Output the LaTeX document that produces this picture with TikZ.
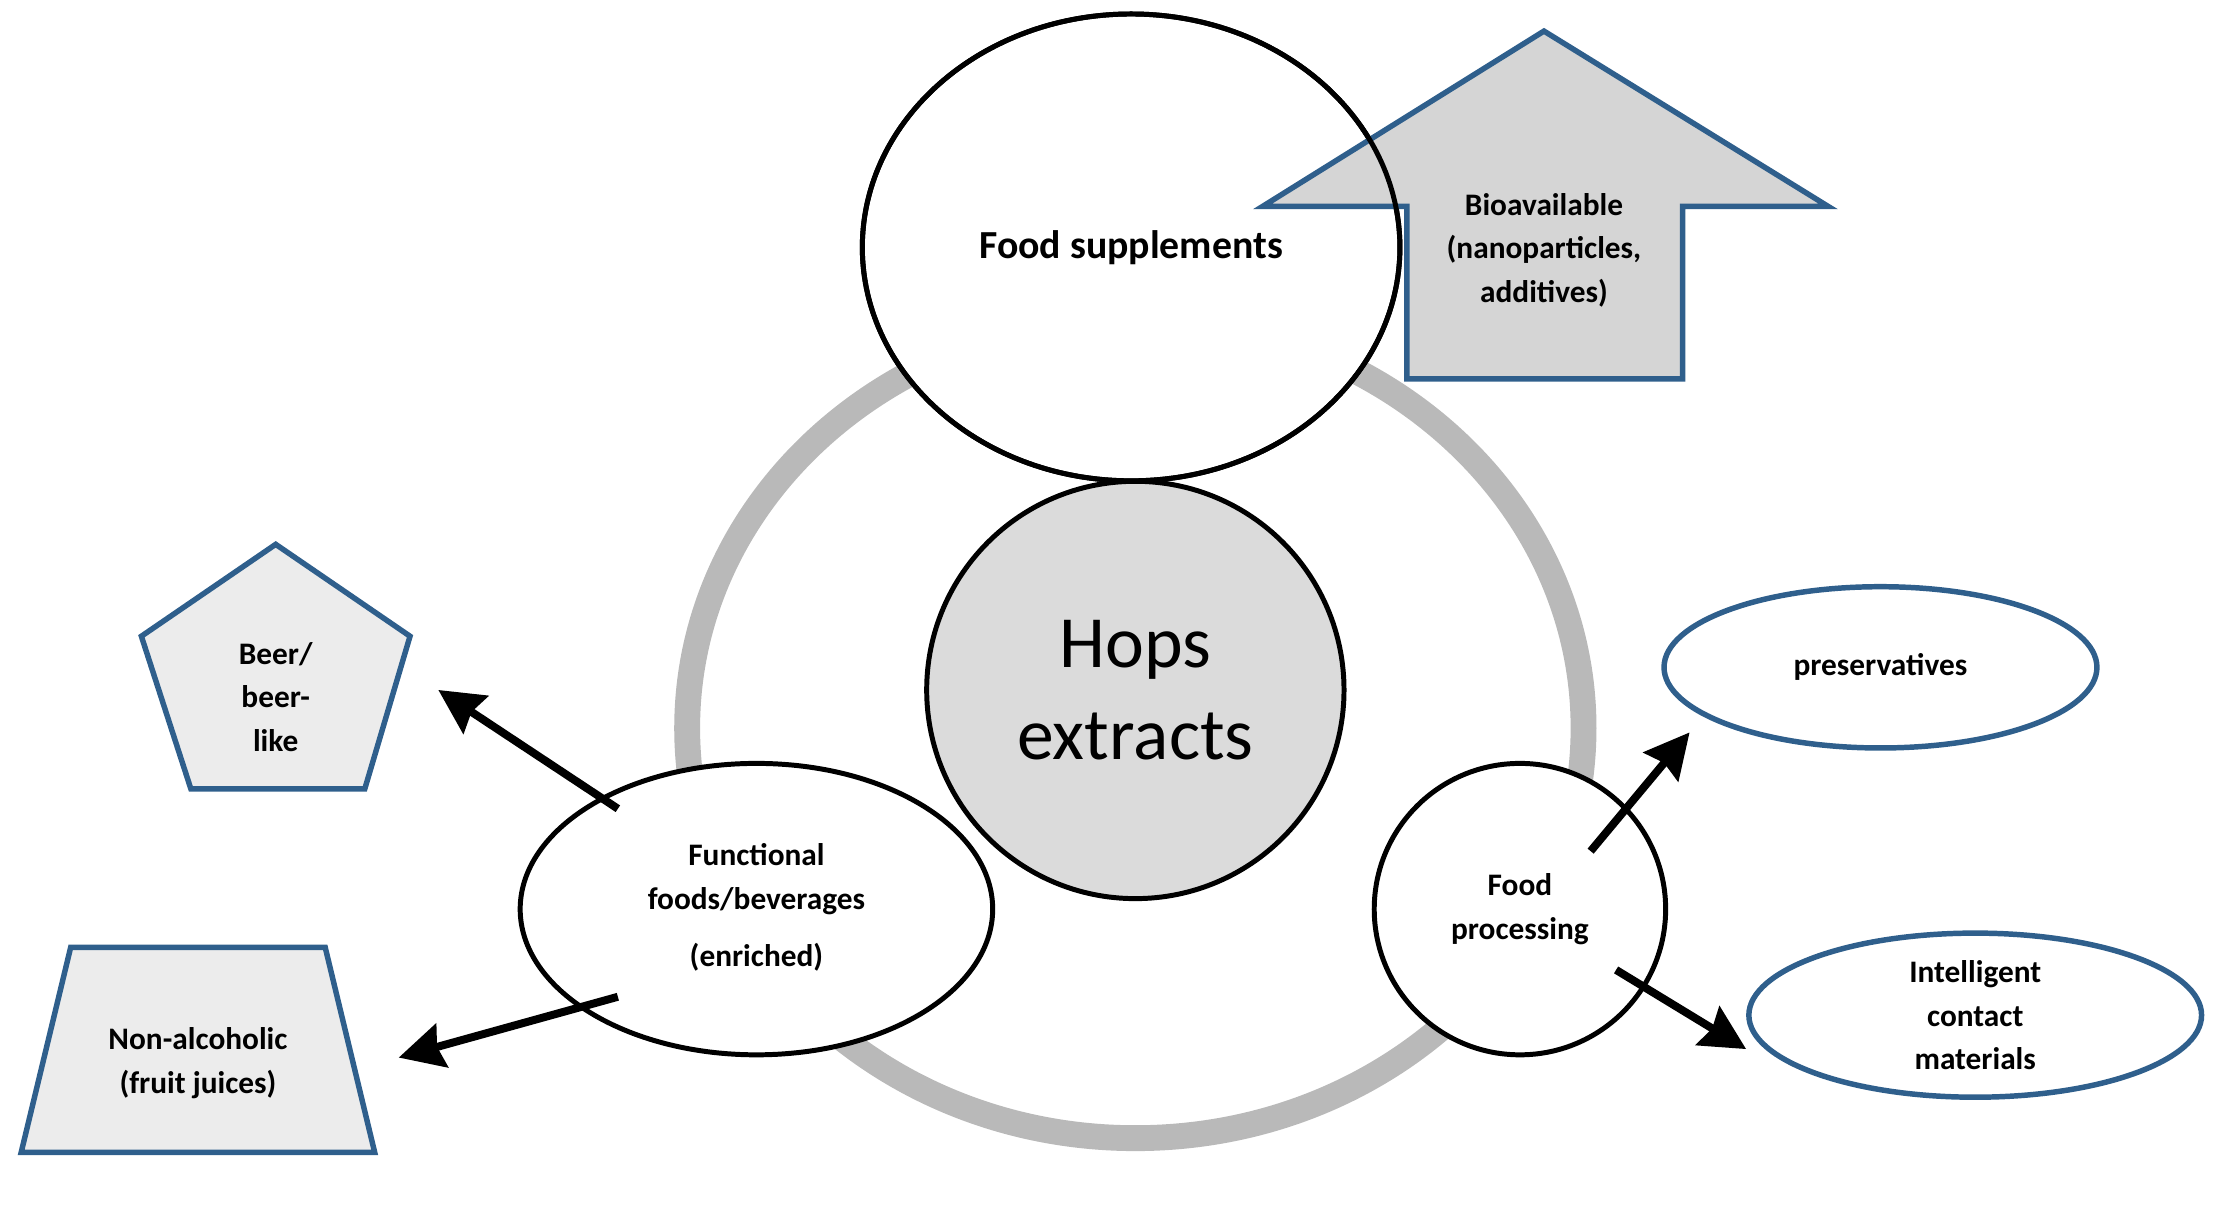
\documentclass[tikz,border=0pt]{standalone}
\usepackage{fontspec}
\setmainfont{Carlito}
\usetikzlibrary{shapes.geometric,arrows.meta}
\definecolor{bl}{RGB}{47,95,140}
\begin{document}
\begin{tikzpicture}[x=0.01cm,y=-0.01cm,
  lab/.style={font=\bfseries\fontsize{6.3}{8.8}\selectfont,align=center},
  blk/.style={draw=black,line width=1pt,fill=white,inner sep=0pt},
  blu/.style={draw=bl,line width=1.1pt},
  arr/.style={line width=1.6pt,-{Stealth[length=9pt,width=9pt,inset=1pt]}}]
\useasboundingbox (0,0) rectangle (1568,862);
\draw[gray!55,line width=5.2pt] (803,515) ellipse [x radius=317,y radius=290];
\node[ellipse,blk,minimum width=3.8cm,minimum height=3.3cm] (fs) at (800,175) {};
\draw[blu,fill=gray!33] (1092,22) -- (1293,146) -- (1190,146) -- (1190,268) -- (995,268) -- (995,146) -- (893,146) -- cycle;
\node[ellipse,draw=black,line width=1pt,inner sep=0pt,minimum width=3.8cm,minimum height=3.3cm] at (800,175) {};
\node[font=\bfseries\fontsize{8}{10}\selectfont] at (800,175) {Food supplements};
\node[lab] (bio) at (1092,177) {Bioavailable\\(nanoparticles,\\additives)};
\node[circle,blk,fill=gray!28,minimum size=2.95cm] (hops) at (803,488) {};
\node[font=\fontsize{14.8}{18.5}\selectfont,align=center] at (803,488) {Hops\\extracts};
\node[ellipse,blk,minimum width=3.34cm,minimum height=2.06cm] (ff) at (535,643) {};
\node[lab] at (535,622) {Functional\\foods/beverages};
\node[lab] at (535,677) {(enriched)};
\node[circle,blk,minimum size=2.06cm] (fp) at (1075,643) {};
\node[lab] at (1075,643) {Food\\processing};
\draw[blu,fill=gray!15] (195,385) -- (290,450) -- (258,558) -- (135,558) -- (100,450) -- cycle;
\node[lab] (beer) at (195,493) {Beer/\\beer-\\like};
\draw[blu,fill=gray!15] (50,670) -- (230,670) -- (265,815) -- (15,815) -- cycle;
\node[lab] (na) at (140,752) {Non-alcoholic\\(fruit juices)};
\node[ellipse,blu,fill=white,inner sep=0pt,minimum width=3.06cm,minimum height=1.14cm] (pr) at (1330,472) {};
\node[lab] at (1330,472) {preservatives};
\node[ellipse,blu,fill=white,inner sep=0pt,minimum width=3.2cm,minimum height=1.16cm] (ic) at (1397,718) {};
\node[lab] at (1397,718) {Intelligent\\contact\\materials};
\coordinate (a1) at (437,572); \coordinate (b1) at (310,488);
\coordinate (a2) at (437,705); \coordinate (b2) at (282,748);
\coordinate (a3) at (1125,602); \coordinate (b3) at (1195,518);
\coordinate (a4) at (1143,686); \coordinate (b4) at (1235,742);
\draw[arr] (a1) -- (b1);
\draw[arr] (a2) -- (b2);
\draw[arr] (a3) -- (b3);
\draw[arr] (a4) -- (b4);
\end{tikzpicture}
\end{document}
